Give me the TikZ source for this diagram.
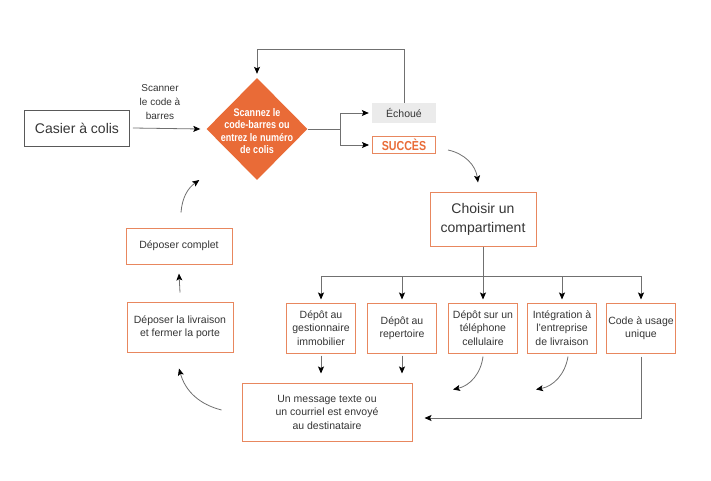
\documentclass[tikz,border=0pt]{standalone}
\usepackage{fontspec}
\setmainfont{Liberation Sans}
\newfontfamily\condfont[FakeStretch=0.82]{Liberation Sans}
\usepackage{tikz}
\usepackage{xcolor}
\usetikzlibrary{arrows.meta,shapes.geometric,calc}
\definecolor{boxorange}{HTML}{E8875E}
\definecolor{diaorange}{HTML}{E96B37}
\definecolor{failgray}{HTML}{EBEBEB}
\definecolor{linegray}{HTML}{707070}
\definecolor{txtgray}{HTML}{353535}

\begin{document}
\begin{tikzpicture}[x=1pt,y=-1pt,
  every node/.style={inner sep=0pt,text=txtgray,align=center},
  box/.style={draw=boxorange,line width=1pt,fill=white},
  small/.style={font=\fontsize{10.5}{13.5}\selectfont},
  big/.style={font=\fontsize{14}{19}\selectfont},
  conn/.style={draw=linegray,line width=0.8pt,-{Stealth[color=black,length=7pt,width=6pt,inset=1.5pt]}},
  plain/.style={draw=linegray,line width=0.8pt}]
\useasboundingbox (0,0) rectangle (711,481);
\node (casier) at (77,128) [draw=black!65,line width=0.8pt,minimum width=105pt,minimum height=36pt,big] {Casier à colis};
\node (scanlbl) at (160,102) [small,font=\fontsize{10}{14}\selectfont] {Scanner\\le code à\\barres};
\node (scan) at (257,129) [diamond,fill=diaorange,minimum width=101pt,minimum height=102pt] {};
\node (scantxt) at (257,131) [text=white,font=\condfont\bfseries\fontsize{11}{12.3}\selectfont] {Scannez le\\code-barres ou\\entrez le numéro\\de colis};
\node (echoue) at (404,113) [fill=failgray,minimum width=64pt,minimum height=20pt,small] {Échoué};
\node (succes) at (404,145) [box,minimum width=63pt,minimum height=17pt,text=diaorange,font=\condfont\bfseries\fontsize{13}{14}\selectfont] {SUCCÈS};
\node (choisir) at (483,219) [box,minimum width=106pt,minimum height=54pt,big] {Choisir un\\compartiment};
\node (d1) at (321,328) [box,minimum width=69pt,minimum height=50pt,small] {Dépôt au\\gestionnaire\\immobilier};
\node (d2) at (402,328) [box,minimum width=69pt,minimum height=50pt,small] {Dépôt au\\repertoire};
\node (d3) at (483,328) [box,minimum width=69pt,minimum height=50pt,small] {Dépôt sur un\\téléphone\\cellulaire};
\node (d4) at (562,328) [box,minimum width=69pt,minimum height=50pt,small] {Intégration à\\l’entreprise\\de livraison};
\node (d5) at (641,328) [box,minimum width=69pt,minimum height=50pt,small] {Code à usage\\unique};
\node (message) at (327,412) [box,minimum width=170pt,minimum height=58pt,small] {Un message texte ou\\un courriel est envoyé\\au destinataire};
\node (deposer) at (180,327) [box,minimum width=106pt,minimum height=50pt,small] {Déposer la livraison\\et fermer la porte};
\node (complet) at (179,246) [box,minimum width=106pt,minimum height=36pt,small] {Déposer complet};
\coordinate (fork) at (340,129);
\coordinate (bus) at (483,276);
\draw[conn] ([xshift=3pt]casier.east) -- ([xshift=-6pt]scan.west);
\draw[conn] (echoue.north) -- ++(0,-53) -| ([yshift=4pt]scan.north);
\draw[plain] (scan.east) -- (fork);
\draw[conn] (fork) |- ([xshift=-3pt]echoue.west);
\draw[conn] (fork) |- ([xshift=-3pt]succes.west);
\draw[conn] ($(succes.east)+(12,5)$) to[bend left=35] ($(choisir.north)+(-5,-9)$);
\draw[plain] (choisir.south) -- (bus);
\draw[plain] (d1.north |- bus) -- (d5.north |- bus);
\foreach \d in {d1,d2,d3,d4,d5}
  \draw[conn] (\d.north |- bus) -- ([yshift=3pt]\d.north);
\draw[conn] ([yshift=-2pt]d1.south) -- ++(0,18);
\draw[conn] ([yshift=-2pt]d2.south) -- ++(0,18);
\draw[conn] ($(d3.south)+(0,3)$) to[bend left=35] ++(-30,33);
\draw[conn] ($(d4.south)+(6,3)$) to[bend left=35] ++(-32,33);
\draw[conn] ([yshift=-3pt]d5.south) |- ($(message.east)+(12,6)$);
\draw[conn] ($(message.west)+(-20,-2)$) to[bend left=30] ($(deposer.south)+(-1,16)$);
\draw[conn] ([yshift=9pt]deposer.north) -- ([yshift=-9pt]complet.south);
\draw[conn] ($(complet.north)+(2,-15)$) to[bend left=25] ($(scan.west)+(-7,51)$);
\end{tikzpicture}
\end{document}
